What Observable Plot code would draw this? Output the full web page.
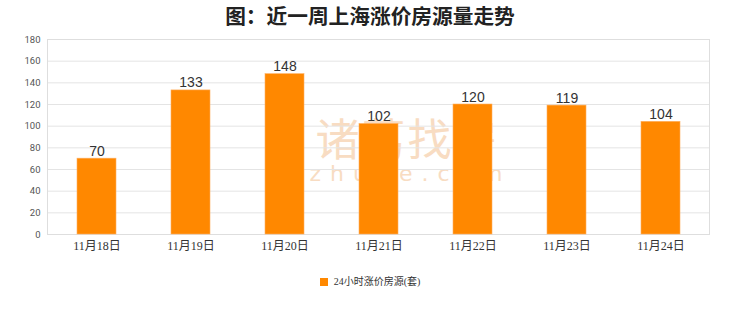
<!DOCTYPE html>
<html>
<head>
<meta charset="utf-8">
<script src="https://cdn.jsdelivr.net/npm/d3@7"></script>
<script src="https://cdn.jsdelivr.net/npm/@observablehq/plot@0.6"></script>
<style>
  html, body { margin: 0; padding: 0; background: #ffffff; }
  #wrap { position: relative; width: 740px; height: 312px; overflow: hidden; }
  #title { height: 30px; line-height: 30px; text-align: center; font-family: "Noto Sans CJK SC", sans-serif; font-weight: bold; font-size: 20.7px; color: #222; }
  #wm { position: absolute; left: 300px; top: 112px; width: 215px; text-align: center; color: #f8dcc2; font-family: "Noto Sans CJK SC", sans-serif; pointer-events: none; }
  #wm .a { font-size: 44px; line-height: 50px; letter-spacing: 2px; }
  #wm .b { font-size: 22px; line-height: 24px; letter-spacing: 9px; font-family: "DejaVu Sans", sans-serif; margin-left: 6px; }
  #chart { position: relative; }
  #chart svg { display: block; }
  #legend { position: absolute; left: 0; top: 273px; width: 740px; text-align: center; font-family: "Liberation Serif", "Noto Sans CJK SC", serif; font-size: 10px; color: #333; }
  #legend .sw { display: inline-block; width: 8px; height: 8px; background: #ff8800; margin-right: 6px; vertical-align: -1px; }
</style>
</head>
<body>
<div id="wrap">
  <div id="title">图：近一周上海涨价房源量走势</div>
  <div id="wm"><div class="a">诸葛找房</div><div class="b">zhuge.com</div></div>
  <div id="chart"></div>
  <div id="legend"><span class="sw"></span>24小时涨价房源(套)</div>
</div>
<script>
const dates = ["11月18日", "11月19日", "11月20日", "11月21日", "11月22日", "11月23日", "11月24日"];
const values = [70, 133, 148, 102, 120, 119, 104];
const yTicks = [0, 20, 40, 60, 80, 100, 120, 140, 160, 180];
const seriesName = "24小时涨价房源(套)";

const data = dates.map((d, i) => ({date: d, value: values[i]}));

const chart = Plot.plot({
  width: 740,
  height: 238,
  marginTop: 9,
  marginLeft: 47,
  marginRight: 31,
  marginBottom: 34,
  style: {background: "transparent", fontFamily: "Roboto, sans-serif", overflow: "visible"},
  x: {domain: dates, paddingInner: 0.59, paddingOuter: 0.295, label: null},
  y: {domain: [0, 180], label: null},
  marks: [
    Plot.gridY(yTicks, {stroke: "#e4e4e4", strokeOpacity: 1}),
    Plot.frame({stroke: "#dedede"}),
    Plot.barY(data, {x: "date", y: "value", fill: "#ff8800", stroke: "#ffb060", strokeWidth: 0.6}),
    Plot.text(data, {x: "date", y: "value", text: d => String(d.value), lineAnchor: "bottom", dy: -3, fontSize: 14, fill: "#333", fontFamily: "Liberation Sans, Arial, sans-serif"}),
    Plot.axisX({tickSize: 0, tickPadding: 7, fontSize: 12, fill: "#333", fontFamily: "Liberation Serif, 'Noto Sans CJK SC', serif", label: null}),
    Plot.axisY(yTicks, {tickSize: 0, tickPadding: 7, fontSize: 9.5, fill: "#555", label: null})
  ]
});
document.getElementById("chart").appendChild(chart);
</script>
</body>
</html>
